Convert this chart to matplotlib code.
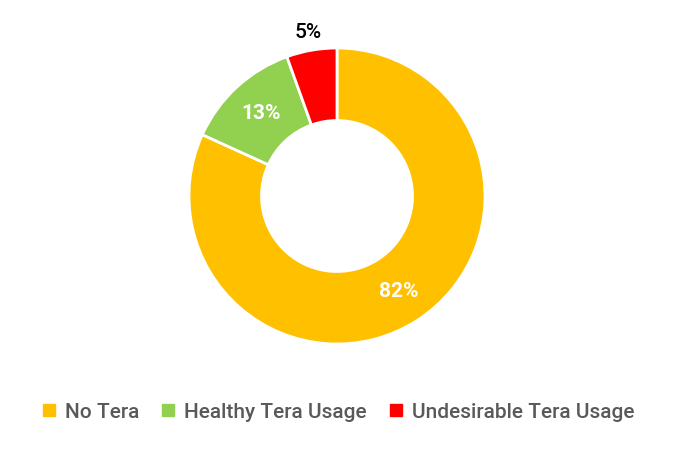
import matplotlib
matplotlib.use("Agg")
import matplotlib.pyplot as plt
import numpy as np
from matplotlib.lines import Line2D

categories = ["No Tera", "Healthy Tera Usage", "Undesirable Tera Usage"]
values = [81.8, 12.7, 5.5]
labels = ["82%", "13%", "5%"]
colors = ["#FFC000", "#92D050", "#FF0000"]
label_colors = ["white", "white", "black"]
label_radius = [0.77, 0.76, 1.12]

fig = plt.figure(figsize=(6.75, 4.49), dpi=100)
ax = fig.add_axes([189/675, 105/449, 296/675, 296/449])
wedges, _ = ax.pie(values, colors=colors, startangle=90, counterclock=False,
                   radius=1.0, wedgeprops=dict(width=0.49, edgecolor="white", linewidth=2))
ax.set_xlim(-1, 1)
ax.set_ylim(-1, 1)
ax.set_aspect("equal")
ax.axis("off")

for w, lab, c, r in zip(wedges, labels, label_colors, label_radius):
    ang = np.deg2rad((w.theta1 + w.theta2) / 2)
    ax.text(r*np.cos(ang), r*np.sin(ang), lab, ha="center", va="center",
            color=c, fontsize=15, fontweight="bold" if c == "white" else "medium",
            family="Roboto", clip_on=False)

handles = [Line2D([0], [0], marker="s", linestyle="none", markersize=8,
                  markerfacecolor=col, markeredgecolor=col) for col in colors]
leg = fig.legend(handles, categories, loc="center", bbox_to_anchor=(0.5, 1-412/449),
                 ncol=3, frameon=False, handletextpad=0.35, columnspacing=1.0,
                 handlelength=0.8, prop=dict(family="Roboto", size=15, weight="medium"))
for t in leg.get_texts():
    t.set_color("#595959")

fig.savefig("out.png", dpi=100)
